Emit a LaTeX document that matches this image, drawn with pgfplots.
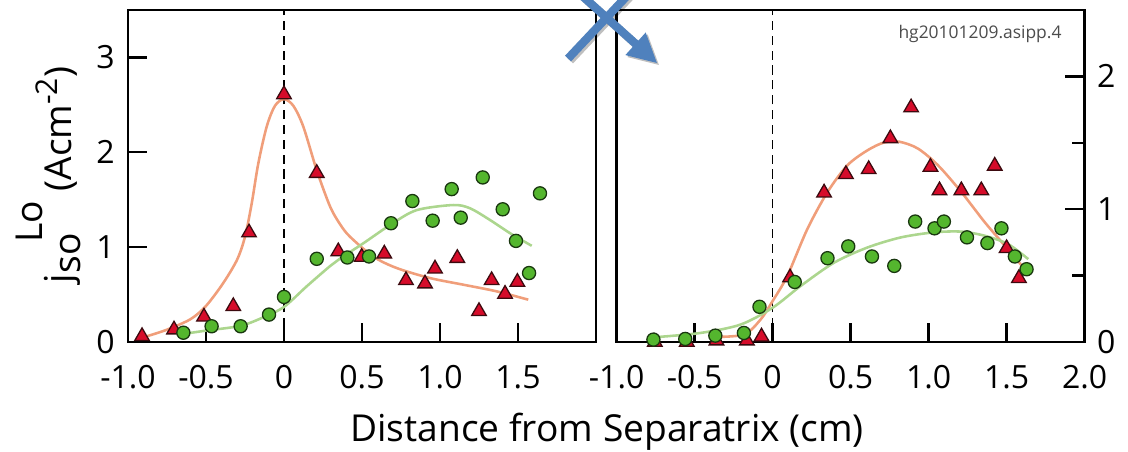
\documentclass[border=0pt]{standalone}
\usepackage{fontspec}
\setmainfont{Open Sans}
\usepackage{pgfplots}
\pgfplotsset{compat=1.18}
\usetikzlibrary{arrows.meta}

\definecolor{tri}{RGB}{214,12,42}
\definecolor{triedge}{RGB}{60,10,15}
\definecolor{dot}{RGB}{84,182,46}
\definecolor{dotedge}{RGB}{25,55,15}
\definecolor{fitred}{RGB}{240,158,122}
\definecolor{fitgreen}{RGB}{172,214,142}
\definecolor{xblue}{RGB}{79,129,189}

\newcommand{\tickfont}{\fontsize{11.2}{13}\selectfont}
\newcommand{\labfont}{\fontsize{13}{15}\selectfont}

\tikzset{sepline/.style={black, line width=0.6pt, dash pattern=on 3.2pt off 2pt}}

\pgfplotsset{
  panel/.style={
    scale only axis,
    width=163.8pt, height=116.2pt,
    xmin=-1, xmax=2,
    axis line style={line width=0.9pt},
    tick style={line width=0.8pt, black},
    major tick length=6.8pt,
    minor tick length=4.5pt,
    tick align=inside,
    xtick pos=lower,
    xticklabel style={font=\tickfont, inner sep=0pt, anchor=north, yshift=-8pt},
    clip=false,
  },
  trimark/.style={only marks, mark=triangle*, mark size=2.95pt,
    mark options={fill=tri, draw=triedge, line width=0.45pt}},
  dotmark/.style={only marks, mark=*, mark size=2.3pt,
    mark options={fill=dot, draw=dotedge, line width=0.45pt}},
  fitline/.style={no marks, smooth, line width=0.9pt},
}

\begin{document}
\begin{tikzpicture}

% lower-divertor probes
\begin{axis}[panel,
  at={(44.8pt,38.5pt)}, anchor=south west,
  ymin=0, ymax=3.5,
  xtick={-1,-0.5,0,0.5,1,1.5},
  xticklabels={-1.0,-0.5,0,0.5,1.0,1.5},
  ytick={0,1,2,3},
  yticklabels={0,1,2,3},
  ytick pos=left,
  yticklabel style={font=\tickfont, inner sep=0pt, anchor=east, xshift=-4.5pt},
]
\draw[sepline] (axis cs:0,0) -- (axis cs:0,3.5);
\addplot[fitline, fitred] coordinates {
  (-0.88,0.06) (-0.75,0.13) (-0.6,0.24) (-0.5,0.38) (-0.39,0.62) (-0.30,0.87)
  (-0.25,1.11) (-0.207,1.46) (-0.165,1.88) (-0.111,2.27) (-0.058,2.49) (0,2.56)
  (0.06,2.49) (0.124,2.27) (0.21,1.81) (0.295,1.43) (0.36,1.24) (0.423,1.11)
  (0.573,0.90) (0.722,0.78) (0.936,0.674) (1.15,0.604) (1.363,0.534) (1.566,0.446)};
\addplot[fitline, fitgreen] coordinates {
  (-0.665,0.08) (-0.5,0.12) (-0.28,0.17) (-0.133,0.26) (0,0.37) (0.145,0.586)
  (0.295,0.80) (0.36,0.88) (0.508,1.04) (0.686,1.24) (0.85,1.39) (1.085,1.444)
  (1.192,1.41) (1.32,1.287) (1.449,1.147) (1.588,1.014)};
\addplot[trimark] coordinates {
  (-0.91,0.06) (-0.705,0.13) (-0.513,0.265) (-0.325,0.376) (-0.224,1.153)
  (0,2.61) (0.21,1.78) (0.348,0.954) (0.498,0.895) (0.643,0.93) (0.782,0.65)
  (0.904,0.615) (0.968,0.772) (1.111,0.884) (1.25,0.324) (1.331,0.65)
  (1.417,0.506) (1.496,0.632)};
\addplot[dotmark] coordinates {
  (-0.645,0.098) (-0.464,0.166) (-0.278,0.166) (-0.096,0.289) (0,0.475)
  (0.21,0.877) (0.406,0.891) (0.545,0.902) (0.686,1.252) (0.823,1.486)
  (0.953,1.279) (1.075,1.612) (1.133,1.311) (1.274,1.735) (1.402,1.399)
  (1.487,1.066) (1.571,0.727) (1.641,1.567)};
\end{axis}

% upper-divertor probes
\begin{axis}[panel,
  at={(215.81pt,38.5pt)}, anchor=south west,
  ymin=0, ymax=2.5,
  xtick={-1,-0.5,0,0.5,1,1.5,2},
  xticklabels={-1.0,-0.5,0,0.5,1.0,1.5,2.0},
  ytick={0,1,2},
  yticklabels={0,1,2},
  minor ytick={0.5,1.5},
  ytick pos=right,
  yticklabel pos=right,
  yticklabel style={font=\tickfont, inner sep=0pt, anchor=west, xshift=4.2pt},
]
\draw[sepline] (axis cs:0,0) -- (axis cs:0,2.5);
\addplot[fitline, fitred] coordinates {
  (-0.378,0.038) (-0.184,0.056) (-0.077,0.169) (0,0.308) (0.094,0.497)
  (0.223,0.851) (0.352,1.129) (0.48,1.331) (0.609,1.444) (0.716,1.503)
  (0.813,1.508) (0.931,1.457) (1.06,1.331) (1.21,1.129) (1.36,0.902)
  (1.489,0.725) (1.617,0.548)};
\addplot[fitline, fitgreen] coordinates {
  (-0.764,0.035) (-0.463,0.068) (-0.206,0.131) (0,0.258) (0.18,0.422)
  (0.395,0.598) (0.609,0.712) (0.824,0.788) (1.038,0.826) (1.21,0.831)
  (1.36,0.80) (1.51,0.737) (1.639,0.624)};
\addplot[trimark] coordinates {
  (-0.755,0.0) (-0.55,0.0) (-0.36,0.01) (-0.165,0.01) (-0.071,0.04)
  (0.112,0.485) (0.33,1.124) (0.47,1.263) (0.616,1.30) (0.755,1.533)
  (0.888,1.765) (1.012,1.318) (1.07,1.141) (1.21,1.141) (1.338,1.141)
  (1.424,1.326) (1.50,0.705) (1.579,0.48)};
\addplot[dotmark] coordinates {
  (-0.764,0.018) (-0.56,0.023) (-0.367,0.048) (-0.184,0.068) (-0.084,0.265)
  (0.142,0.452) (0.352,0.631) (0.485,0.72) (0.637,0.644) (0.78,0.573)
  (0.914,0.907) (1.038,0.856) (1.098,0.907) (1.246,0.788) (1.377,0.745)
  (1.467,0.856) (1.553,0.644) (1.628,0.548)};
\end{axis}

% shot label
\node[anchor=base, text=black!70, font=\fontsize{6.1}{8}\selectfont, inner sep=0pt]
  at (343pt,144.8pt) {hg20101209.asipp.4};

% shared axis titles
\node[anchor=base, font=\labfont, inner sep=0pt] at (212.5pt,3.5pt)
  {Distance from Separatrix (cm)};
\node[rotate=90, anchor=base, font=\labfont, inner sep=0pt] at (25.2pt,96.95pt)
  {j\raisebox{-0.22em}{so}\kern-0.25em\raisebox{0.8em}{Lo} (Acm\raisebox{0.38em}{\fontsize{10.5}{12}\selectfont -2})};

% crossed-out arrow between the panels
\begin{scope}
  \clip (0,0) rectangle (394.8pt,158.2pt);
  \begin{scope}[black, opacity=0.25, shift={(0.7pt,-0.7pt)}]
    \draw[line width=2.9pt] (198.8pt,137.7pt) -- (219.8pt,160pt);
    \draw[line width=2.9pt, -{Triangle[width=9.8pt,length=10.3pt]}]
      (203.4pt,160pt) -- (230.1pt,136.0pt);
  \end{scope}
  \draw[xblue, line width=2.9pt] (198.8pt,137.7pt) -- (219.8pt,160pt);
  \draw[xblue, line width=2.9pt, -{Triangle[width=9.8pt,length=10.3pt]}]
    (203.4pt,160pt) -- (230.1pt,136.0pt);
\end{scope}

\pgfresetboundingbox
\useasboundingbox (0,0) rectangle (394.8pt,158.2pt);
\end{tikzpicture}
\end{document}
